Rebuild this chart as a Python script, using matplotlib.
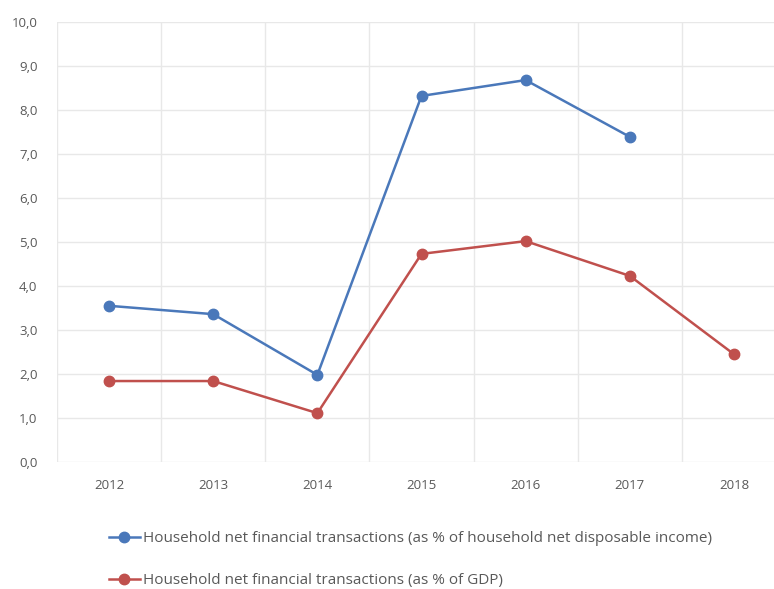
import matplotlib.pyplot as plt
from matplotlib.ticker import FuncFormatter

years = ['2012', '2013', '2014', '2015', '2016', '2017', '2018']
income_pct = [3.55, 3.36, 1.98, 8.32, 8.68, 7.39]
gdp_pct = [1.84, 1.84, 1.11, 4.73, 5.02, 4.23, 2.45]
labels = ['Household net financial transactions (as % of household net disposable income)',
          'Household net financial transactions (as % of GDP)']

plt.rcParams['font.family'] = ['Open Sans', 'DejaVu Sans']

fig = plt.figure(figsize=(7.74, 5.89), dpi=100)
ax = fig.add_axes([57/774, 127/589, 729/774, 440/589])

blue = '#4a78ba'
red = '#c0504d'
ax.plot(range(len(income_pct)), income_pct, color=blue, lw=1.8, marker='o', ms=7.5, label=labels[0])
ax.plot(range(len(gdp_pct)), gdp_pct, color=red, lw=1.8, marker='o', ms=7.5, label=labels[1])

ax.set_xlim(-0.5, 6.5)
ax.set_ylim(0, 10)
ax.set_yticks(range(0, 11))
ax.yaxis.set_major_formatter(FuncFormatter(lambda v, p: f'{v:.1f}'.replace('.', ',')))
ax.set_xticks(range(len(years)))
ax.set_xticklabels(years)
ax.set_xticks([i - 0.5 for i in range(len(years) + 1)], minor=True)

ax.grid(True, axis='y', which='major', color='#e8e8e8', lw=1)
ax.grid(True, axis='x', which='minor', color='#e8e8e8', lw=1)
ax.set_axisbelow(True)
for s in ax.spines.values():
    s.set_visible(False)
ax.tick_params(which='both', length=0, colors='#595959', labelsize=9.5)
ax.tick_params(axis='x', pad=12)
ax.tick_params(axis='y', pad=14)

fig.legend(loc='upper left', bbox_to_anchor=(103/774, 1 - 525/589), frameon=False,
           fontsize=11, handlelength=2.0, handletextpad=0.2, labelspacing=1.75,
           labelcolor='#595959', borderaxespad=0)

fig.savefig('out.png', dpi=100)
